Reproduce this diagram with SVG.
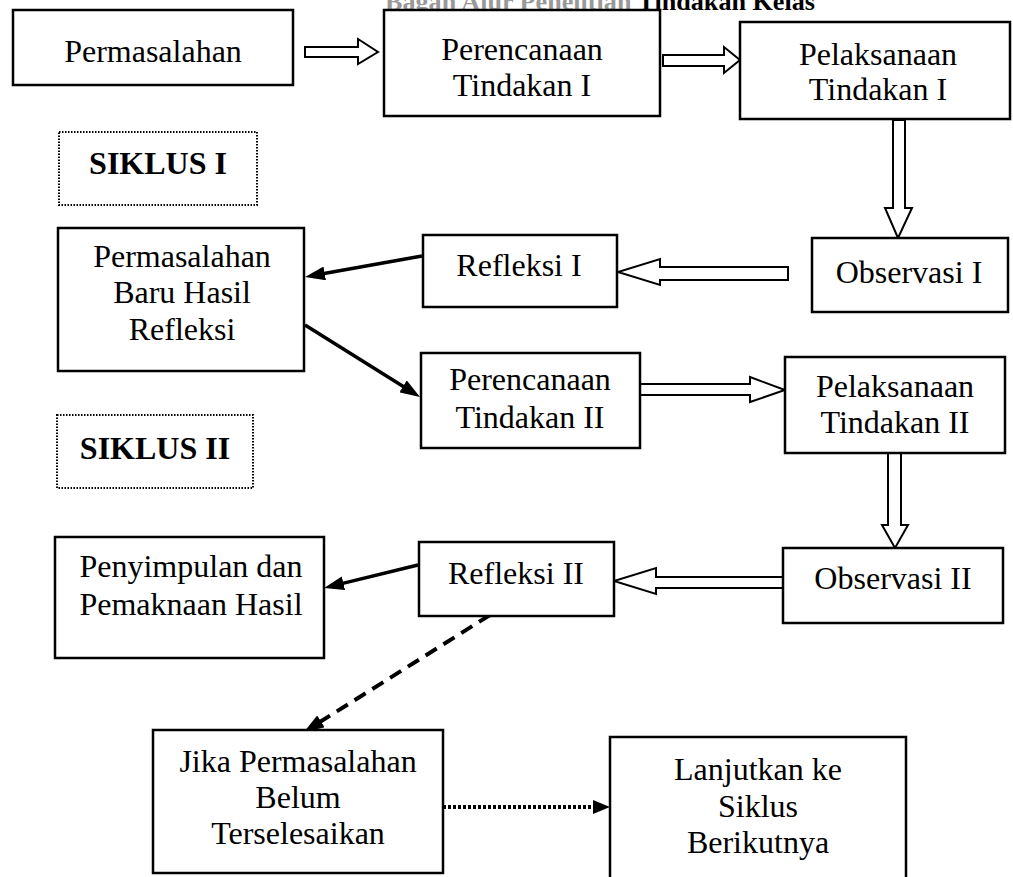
<svg xmlns="http://www.w3.org/2000/svg" width="1013" height="877" viewBox="0 0 1013 877">
<style>
  .box { fill: #fff; stroke: #000; stroke-width: 2.5; }
  .sik { fill: #fff; stroke: #000; stroke-width: 2; stroke-dasharray: 1.5 1.5; }
  .t { font-family: "Liberation Serif", "Times New Roman", serif; font-size: 32px; fill: #000; text-anchor: middle; }
  .tb { font-family: "Liberation Serif", "Times New Roman", serif; font-size: 32px; font-weight: bold; fill: #000; text-anchor: middle; }
  .hollow { fill: #fff; stroke: #000; stroke-width: 2; stroke-linejoin: miter; }
  .solid { fill: none; stroke: #000; stroke-width: 3.5; }
  .dash { fill: none; stroke: #000; stroke-width: 4; stroke-dasharray: 13 8; }
  .dot { fill: none; stroke: #000; stroke-width: 4; stroke-dasharray: 3 2; }
</style>
<defs>
  <marker id="head" markerUnits="userSpaceOnUse" markerWidth="20" markerHeight="14" refX="5" refY="7" orient="auto">
    <path d="M0,0 L20,7 L0,14 z" fill="#000"/>
  </marker>
  <marker id="headSmall" markerUnits="userSpaceOnUse" markerWidth="17" markerHeight="14" refX="2" refY="7" orient="auto">
    <path d="M0,0 L17,7 L0,14 z" fill="#000"/>
  </marker>
</defs>
<rect width="1013" height="877" fill="#fff"/>

<text id="title" x="385" y="10" font-family="Liberation Serif, serif" font-size="26" font-weight="bold" textLength="430" lengthAdjust="spacingAndGlyphs"><tspan fill="#999">Bagan Alur Penelitian </tspan><tspan fill="#000">Tindakan Kelas</tspan></text>

<g id="connectors">
  <polygon class="hollow" points="305,47 358,47 358,39 378,52 358,64 358,57 305,57"/>
  <polygon class="hollow" points="663,55 724,55 724,47 740,60 724,73 724,66 663,66"/>
  <polygon class="hollow" points="893,120 905,120 905,208 912,208 898,238 885,208 893,208"/>
  <polygon class="hollow" points="788,267 660,267 660,259 618,272 660,285 660,280 788,280"/>
  <polygon class="hollow" points="640,384 750,384 750,377 785,390 750,402 750,395 640,395"/>
  <polygon class="hollow" points="888,453 901,453 901,525 908,525 895,548 882,525 888,525"/>
  <polygon class="hollow" points="783,577 656,577 656,568 614,581 656,594 656,588 783,588"/>
  <line class="solid" x1="422" y1="256" x2="319.8" y2="274.3" marker-end="url(#head)"/>
  <line class="solid" x1="305" y1="325" x2="407.3" y2="389" marker-end="url(#head)"/>
  <line class="solid" x1="418" y1="565" x2="338.6" y2="584.4" marker-end="url(#head)"/>
  <line class="dash" x1="490" y1="615" x2="316.7" y2="724" marker-end="url(#head)"/>
  <line class="dot" x1="443" y1="807" x2="595" y2="807" marker-end="url(#headSmall)"/>
</g>

<g id="permasalahan">
  <rect class="box" x="13" y="10" width="280" height="75"/>
  <text class="t" x="153" y="62">Permasalahan</text>
</g>
<g id="perencanaan1">
  <rect class="box" x="384" y="10" width="276" height="106"/>
  <text class="t" x="522" y="60">Perencanaan</text>
  <text class="t" x="522" y="96">Tindakan I</text>
</g>
<g id="pelaksanaan1">
  <rect class="box" x="740" y="22" width="270" height="97"/>
  <text class="t" x="878" y="65">Pelaksanaan</text>
  <text class="t" x="878" y="100">Tindakan I</text>
</g>
<g id="siklus1">
  <rect class="sik" x="59" y="132" width="198" height="73"/>
  <text class="tb" x="158" y="174">SIKLUS I</text>
</g>
<g id="permasalahan-baru">
  <rect class="box" x="58" y="228" width="246" height="143"/>
  <text class="t" x="182" y="267">Permasalahan</text>
  <text class="t" x="182" y="303">Baru Hasil</text>
  <text class="t" x="182" y="340">Refleksi</text>
</g>
<g id="refleksi1">
  <rect class="box" x="423" y="235" width="194" height="72"/>
  <text class="t" x="519" y="276">Refleksi I</text>
</g>
<g id="observasi1">
  <rect class="box" x="812" y="238" width="196" height="74"/>
  <text class="t" x="909" y="283">Observasi I</text>
</g>
<g id="perencanaan2">
  <rect class="box" x="421" y="353" width="219" height="95"/>
  <text class="t" x="530" y="390">Perencanaan</text>
  <text class="t" x="530" y="428">Tindakan II</text>
</g>
<g id="pelaksanaan2">
  <rect class="box" x="785" y="357" width="220" height="96"/>
  <text class="t" x="895" y="397">Pelaksanaan</text>
  <text class="t" x="895" y="433">Tindakan II</text>
</g>
<g id="siklus2">
  <rect class="sik" x="57" y="415" width="196" height="73"/>
  <text class="tb" x="155" y="459">SIKLUS II</text>
</g>
<g id="penyimpulan">
  <rect class="box" x="55" y="537" width="269" height="121"/>
  <text class="t" x="191" y="577">Penyimpulan dan</text>
  <text class="t" x="191" y="615">Pemaknaan Hasil</text>
</g>
<g id="refleksi2">
  <rect class="box" x="419" y="542" width="195" height="74"/>
  <text class="t" x="516" y="584">Refleksi II</text>
</g>
<g id="observasi2">
  <rect class="box" x="783" y="548" width="220" height="75"/>
  <text class="t" x="893" y="589">Observasi II</text>
</g>
<g id="jika">
  <rect class="box" x="153" y="730" width="290" height="143"/>
  <text class="t" x="298" y="772">Jika Permasalahan</text>
  <text class="t" x="298" y="808">Belum</text>
  <text class="t" x="298" y="844">Terselesaikan</text>
</g>
<g id="lanjutkan">
  <rect class="box" x="610" y="737" width="296" height="145"/>
  <text class="t" x="758" y="780">Lanjutkan ke</text>
  <text class="t" x="758" y="817">Siklus</text>
  <text class="t" x="758" y="853">Berikutnya</text>
</g>
</svg>
